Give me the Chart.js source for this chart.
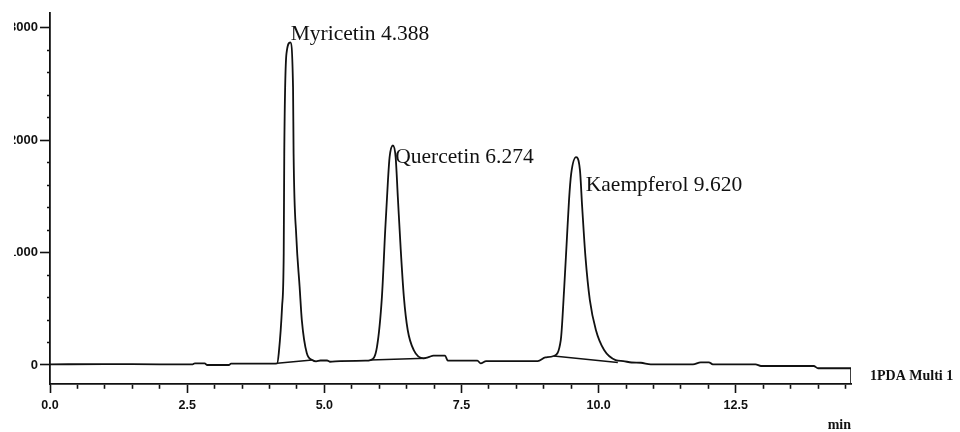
<!DOCTYPE html>
<html>
<head>
<meta charset="utf-8">
<script src="https://cdn.jsdelivr.net/npm/chart.js@4"></script>
<style>
  body { margin: 0; background: #fff; width: 960px; height: 432px; overflow: hidden; position: relative; }
  #chart { position: absolute; left: 14px; top: 0; }
</style>
</head>
<body>
<canvas id="chart" width="946" height="432"></canvas>
<script>
// chromatogram trace (time in min, detector signal)
const time = [0, 1.0, 2.0, 2.6, 2.64, 2.82, 2.86, 3.26, 3.3, 4.07,
  4.14, 4.17, 4.23, 4.26, 4.27, 4.31, 4.38, 4.43, 4.44, 4.49,
  4.55, 4.59, 4.68, 4.78, 4.85, 4.93, 5.05, 5.1, 5.29, 5.75,
  5.84, 5.96, 6.05, 6.11, 6.16, 6.19, 6.25, 6.3, 6.34, 6.39,
  6.45, 6.52, 6.63, 6.81, 6.9, 6.99, 7.2, 7.25, 7.79, 7.85,
  7.95, 8.89, 9.03, 9.18, 9.31, 9.37, 9.42, 9.46, 9.5, 9.59,
  9.66, 9.7, 9.76, 9.84, 9.95, 10.1, 10.31, 10.45, 10.6, 10.77,
  10.95, 11.72, 11.86, 12.01, 12.08, 12.86, 12.96, 13.92, 14.0, 14.6]
const signal = [6, 8, 6, 6, 15, 15, 0, 0, 12, 12,
  15, 106, 517, 994, 1881, 2768, 2869, 2469, 1881, 1138,
  695, 399, 106, 44, 32, 40, 40, 29, 35, 38,
  44, 162, 606, 1198, 1641, 1848, 1952, 1848, 1494, 1050,
  606, 311, 133, 59, 70, 83, 83, 40, 38, 15,
  35, 35, 67, 80, 222, 665, 1109, 1464, 1701, 1848,
  1730, 1405, 961, 577, 311, 133, 44, 35, 22, 20,
  6, 6, 24, 24, 6, 6, -9, -9, -29, -29]

// peaks
const peakNames = ['Myricetin', 'Quercetin', 'Kaempferol']
const peakTimes = [4.388, 6.274, 9.620]
const peakHeights = [2869, 1952, 1848]

// integration baselines under each peak
const baseFromT = [4.14, 5.84, 9.18]
const baseFromV = [15, 44, 80]
const baseToT = [4.78, 6.85, 10.35]
const baseToV = [44, 60, 22]

// axes
const xTicks = [0, 0.5, 1, 1.5, 2, 2.5, 3, 3.5, 4, 4.5, 5, 5.5, 6, 6.5, 7, 7.5,
  8, 8.5, 9, 9.5, 10, 10.5, 11, 11.5, 12, 12.5, 13, 13.5, 14, 14.5]
const yTicks = [0, 200, 400, 600, 800, 1000, 1200, 1400, 1600, 1800, 2000,
  2200, 2400, 2600, 2800, 3000]
const xMin = 0, xMax = 14.6
const yMin = -169, yMax = 3130
const xTitle = 'min'
const channelName = '1PDA Multi 1'

// label placement (pixels from the peak top)
const labelOffsets = [[0, -2], [1, 18], [8, 34]]
const ink = '#111'

function isMajor(v, step) {
  return Math.abs(v / step - Math.round(v / step)) < 1e-6
}

const traceData = time.map((t, i) => ({x: t, y: signal[i]}))

const datasets = [{
  data: traceData,
  borderColor: ink,
  borderWidth: 1.8,
  pointRadius: 0,
  cubicInterpolationMode: 'monotone'
}]
baseFromT.forEach((t, i) => {
  datasets.push({
    data: [{x: t, y: baseFromV[i]}, {x: baseToT[i], y: baseToV[i]}],
    borderColor: ink,
    borderWidth: 1.5,
    pointRadius: 0
  })
})
// right edge of the frame, from the axis up to the trace end
datasets.push({
  data: [{x: xMax, y: yMin}, {x: xMax, y: signal[signal.length - 1]}],
  borderColor: ink,
  borderWidth: 1.6,
  pointRadius: 0
})

const textPlugin = {
  id: 'peakText',
  afterDatasetsDraw(chart) {
    const {ctx, chartArea} = chart
    const x = chart.scales.x
    const y = chart.scales.y
    ctx.save()
    ctx.fillStyle = ink
    ctx.font = '21.5px "Liberation Serif", "Times New Roman", serif'
    ctx.textBaseline = 'alphabetic'
    ctx.textAlign = 'left'
    peakNames.forEach((name, i) => {
      const px = x.getPixelForValue(peakTimes[i]) + labelOffsets[i][0]
      const py = y.getPixelForValue(peakHeights[i]) + labelOffsets[i][1]
      ctx.fillText(name + ' ' + peakTimes[i].toFixed(3), px, py)
    })
    ctx.font = 'bold 14px "Liberation Serif", "Times New Roman", serif'
    ctx.textBaseline = 'middle'
    const endY = (y.getPixelForValue(signal[signal.length - 1]) + chartArea.bottom) / 2
    ctx.fillText(channelName, chartArea.right + 19, endY)
    ctx.restore()
  }
}

const tickFont = {family: '"Liberation Sans", Arial, sans-serif', size: 12.5, weight: 'bold'}

new Chart(document.querySelector('#chart'), {
  type: 'line',
  data: {datasets: datasets},
  options: {
    responsive: false,
    animation: false,
    devicePixelRatio: 1,
    layout: {padding: {top: 13, right: 109, left: 0, bottom: 0}},
    plugins: {legend: {display: false}, tooltip: {enabled: false}},
    scales: {
      x: {
        type: 'linear',
        min: xMin,
        max: xMax,
        afterBuildTicks: scale => { scale.ticks = xTicks.map(v => ({value: v})) },
        afterFit: scale => { scale.height = 48 },
        border: {color: ink, width: 1.8},
        grid: {
          drawOnChartArea: false,
          tickLength: 9,
          tickColor: ink,
          tickWidth: 1.6,
          tickBorderDash: c => (c.tick && isMajor(c.tick.value, 2.5)) ? [] : [4, 100]
        },
        ticks: {
          autoSkip: false,
          maxRotation: 0,
          padding: 5,
          color: ink,
          font: tickFont,
          callback: v => isMajor(v, 2.5) ? v.toFixed(1) : ''
        },
        title: {
          display: true,
          text: xTitle,
          align: 'end',
          color: ink,
          font: {family: '"Liberation Serif", serif', size: 14, weight: 'bold', lineHeight: 1},
          padding: {top: 0, bottom: 0}
        }
      },
      y: {
        min: yMin,
        max: yMax,
        afterBuildTicks: scale => { scale.ticks = yTicks.map(v => ({value: v})) },
        afterFit: scale => { scale.width = 36 },
        border: {color: ink, width: 1.8},
        grid: {
          drawOnChartArea: false,
          tickLength: 10,
          tickColor: ink,
          tickWidth: 1.6,
          tickBorderDash: c => (c.tick && isMajor(c.tick.value, 1000)) ? [] : [0, 7, 3, 100]
        },
        ticks: {
          autoSkip: false,
          padding: 2,
          color: ink,
          font: {family: '"Liberation Sans", Arial, sans-serif', size: 13, weight: 'bold'},
          callback: v => isMajor(v, 1000) ? String(v) : ''
        }
      }
    }
  },
  plugins: [textPlugin]
})
</script>
</body>
</html>
